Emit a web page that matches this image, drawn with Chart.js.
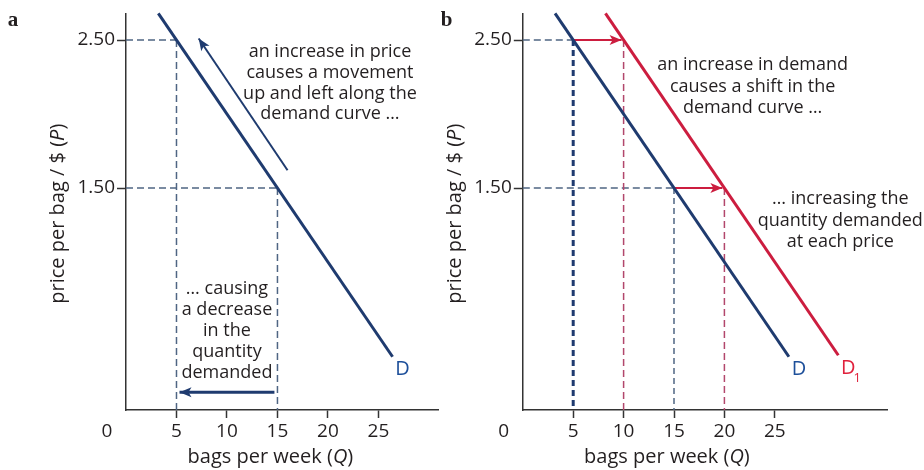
<!DOCTYPE html>
<html>
<head>
<meta charset="utf-8">
<script src="https://cdn.jsdelivr.net/npm/chart.js@4.4.1/dist/chart.umd.min.js"></script>
<style>
  html, body { margin: 0; padding: 0; background: #fff; }
  #wrap { position: relative; width: 924px; height: 470px; }
  .panel { position: absolute; top: 0; height: 470px; }
  #panelA { left: 0; width: 440px; }
  #panelB { left: 440px; width: 484px; }
</style>
</head>
<body>
<div id="wrap">
  <div class="panel" id="panelA"><canvas id="chartA"></canvas></div>
  <div class="panel" id="panelB"><canvas id="chartB"></canvas></div>
</div>
<script>
// Tick labels
const qTicks = [5, 10, 15, 20, 25];
const priceTicks = [1.5, 2.5];

// Demand curves (ends)
const demandQ = [3.2, 26.4];
const demandP = [2.68, 0.36];
const demand1Q = [8.2, 31.3];
const demand1P = [2.68, 0.37];

// Panel a: the two price / quantity points on D
const movePrices = [2.5, 1.5];
const moveQtys = [5, 15];
const alongArrowQ = [16.0, 7.2];
const alongArrowP = [1.62, 2.51];
const qtyArrowQ = [14.7, 5.3];
const qtyArrowP = [0.12, 0.12];

// Panel b: quantity at each price before and after the shift
const shiftPrices = [2.5, 1.5];
const shiftFromQ = [5, 15];
const shiftToQ = [10, 20];
const shiftArrowEndQ = [9.8, 19.8];

// Notes
const noteMove = ['an increase in price', 'causes a movement', 'up and left along the', 'demand curve \u2026'];
const noteQty = ['\u2026 causing', 'a decrease', 'in the', 'quantity', 'demanded'];
const noteShift = ['an increase in demand', 'causes a shift in the', 'demand curve \u2026'];
const noteEach = ['\u2026 increasing the', 'quantity demanded', 'at each price'];

const FONT = "'Open Sans', sans-serif";
const INK = '#231f20';
const NAVY = '#1f3b6f';
const BLUE_TXT = '#1d4f9a';
const RED = '#cc1d3f';
const RED_TXT = '#e0213c';
const DASH_BLUE = '#4f6583';
const DASH_RED = '#b2476c';

function pts(xs, ys) {
    return xs.map((x, i) => ({ x: x, y: ys[i] }));
}

function line(data, color, width, dash, arrow) {
    return {
        data: data,
        showLine: true,
        borderColor: color,
        backgroundColor: color,
        borderWidth: width,
        borderDash: dash || [],
        borderCapStyle: 'butt',
        pointRadius: 0,
        pointHoverRadius: 0,
        fill: false,
        tension: 0,
        clip: false,
        arrow: !!arrow
    };
}

// draws text made of parts with different fonts, centred at cx, cy
function drawRich(ctx, parts, cx, cy) {
    let total = 0;
    parts.forEach(p => { ctx.font = p.font; total += ctx.measureText(p.t).width; });
    let x = cx - total / 2;
    ctx.textAlign = 'left';
    ctx.textBaseline = 'middle';
    parts.forEach(p => {
        ctx.font = p.font;
        ctx.fillText(p.t, x, cy + (p.dy || 0));
        x += ctx.measureText(p.t).width;
    });
}

function drawLines(ctx, lines, cx, cy, lh) {
    ctx.font = '18px ' + FONT;
    ctx.fillStyle = INK;
    ctx.textAlign = 'center';
    ctx.textBaseline = 'middle';
    lines.forEach((t, i) => ctx.fillText(t, cx, cy + i * lh));
}

function drawArrowHeads(chart) {
    const ctx = chart.ctx;
    chart.data.datasets.forEach((ds, i) => {
        if (!ds.arrow) return;
        const p = chart.getDatasetMeta(i).data;
        const tip = p[p.length - 1], prev = p[p.length - 2];
        const a = Math.atan2(tip.y - prev.y, tip.x - prev.x);
        const len = 12, half = 5;
        ctx.save();
        ctx.translate(tip.x, tip.y);
        ctx.rotate(a);
        ctx.fillStyle = ds.borderColor;
        ctx.beginPath();
        ctx.moveTo(0, 0);
        ctx.lineTo(-len, -half);
        ctx.lineTo(-len + 3, 0);
        ctx.lineTo(-len, half);
        ctx.closePath();
        ctx.fill();
        ctx.restore();
    });
}

function axisTitles(chart, letter, letterX) {
    const ctx = chart.ctx;
    const xs = chart.scales.x, ys = chart.scales.y;
    ctx.save();
    ctx.fillStyle = INK;
    // panel letter
    ctx.font = "bold 21px 'Liberation Serif', serif";
    ctx.textAlign = 'center';
    ctx.textBaseline = 'middle';
    ctx.fillText(letter, letterX, 21);
    // origin label
    ctx.font = '19px ' + FONT;
    ctx.fillText('0', xs.getPixelForValue(0) - 19, 432);
    // x title
    drawRich(ctx, [
        { t: 'bags per week (', font: '20px ' + FONT },
        { t: 'Q', font: 'italic 20px ' + FONT },
        { t: ')', font: '20px ' + FONT }
    ], xs.getPixelForValue(14.3), 457);
    // y title
    ctx.translate(xs.getPixelForValue(0) - 68, (ys.top + ys.bottom) / 2 + 2);
    ctx.rotate(-Math.PI / 2);
    drawRich(ctx, [
        { t: 'price per bag / $ (', font: '20px ' + FONT },
        { t: 'P', font: 'italic 20px ' + FONT },
        { t: ')', font: '20px ' + FONT }
    ], 0, 0);
    ctx.restore();
}

function curveLabel(chart, qs, ps, text, sub, color) {
    const ctx = chart.ctx;
    const x = chart.scales.x.getPixelForValue(qs[1]) + 10;
    const y = chart.scales.y.getPixelForValue(ps[1]) + 13;
    ctx.save();
    ctx.fillStyle = color;
    ctx.font = '20px ' + FONT;
    ctx.textAlign = 'center';
    ctx.textBaseline = 'middle';
    ctx.fillText(text, x, y);
    if (sub) {
        ctx.font = '13px ' + FONT;
        ctx.fillText(sub, x + 9, y + 10);
    }
    ctx.restore();
}

function makeChart(id, datasets, xMax, yAxisWidth, padRight, plugin) {
    return new Chart(document.getElementById(id), {
        type: 'scatter',
        data: { datasets: datasets },
        options: {
            responsive: true,
            maintainAspectRatio: false,
            animation: false,
            events: [],
            layout: { padding: { top: 12, right: padRight, left: 0, bottom: 0 } },
            plugins: { legend: { display: false }, tooltip: { enabled: false } },
            scales: {
                x: {
                    type: 'linear',
                    min: 0,
                    max: xMax,
                    afterBuildTicks: s => { s.ticks = qTicks.map(v => ({ value: v })); },
                    afterFit: s => { s.height = 60; },
                    ticks: {
                        autoSkip: false,
                        maxRotation: 0,
                        padding: 2,
                        color: INK,
                        font: { family: FONT, size: 19 }
                    },
                    grid: { drawOnChartArea: false, drawTicks: true, tickLength: 8, tickColor: '#333', tickWidth: 1.5 },
                    border: { color: '#333', width: 1.5 }
                },
                y: {
                    type: 'linear',
                    min: 0,
                    max: 2.68,
                    afterBuildTicks: s => { s.ticks = priceTicks.map(v => ({ value: v })); },
                    afterFit: s => { s.width = yAxisWidth; },
                    ticks: {
                        padding: 2,
                        color: INK,
                        font: { family: FONT, size: 19 },
                        callback: v => v.toFixed(2)
                    },
                    grid: { drawOnChartArea: false, drawTicks: true, tickLength: 9, tickColor: '#333', tickWidth: 1.5 },
                    border: { color: '#333', width: 1.5 }
                }
            }
        },
        plugins: [plugin]
    });
}

// Panel a: movement along the curve
const dsA = [
    line(pts(demandQ, demandP), NAVY, 3),
    line(pts(alongArrowQ, alongArrowP), NAVY, 2, null, true),
    line(pts(qtyArrowQ, qtyArrowP), NAVY, 3, null, true)
];
moveQtys.forEach((q, i) => {
    dsA.push(line(pts([0, q], [movePrices[i], movePrices[i]]), DASH_BLUE, 1.5, [7, 4]));
    dsA.push(line(pts([q, q], [movePrices[i], 0]), DASH_BLUE, 1.5, [7, 4]));
});

makeChart('chartA', dsA, 30.9, 126, 2, {
    id: 'notesA',
    afterDatasetsDraw(chart) {
        drawArrowHeads(chart);
        const xs = chart.scales.x, ys = chart.scales.y;
        drawLines(chart.ctx, noteMove, xs.getPixelForValue(20.2), ys.getPixelForValue(2.42), 20.8);
        drawLines(chart.ctx, noteQty, xs.getPixelForValue(10), ys.getPixelForValue(0.82), 21);
        curveLabel(chart, demandQ, demandP, 'D', null, BLUE_TXT);
        axisTitles(chart, 'a', 13);
    }
});

// Panel b: shift of the curve
const dsB = [
    line(pts(demandQ, demandP), NAVY, 3),
    line(pts(demand1Q, demand1P), RED, 3)
];
shiftPrices.forEach((p, i) => {
    dsB.push(line(pts([shiftFromQ[i], shiftArrowEndQ[i]], [p, p]), RED, 2, null, true));
    dsB.push(line(pts([0, shiftFromQ[i]], [p, p]), DASH_BLUE, 1.5, [7, 4]));
    dsB.push(line(pts([shiftFromQ[i], shiftFromQ[i]], [p, 0]), i === 0 ? '#1f3b6f' : DASH_BLUE, i === 0 ? 3 : 1.5, [6, 4]));
    dsB.push(line(pts([shiftToQ[i], shiftToQ[i]], [p, 0]), DASH_RED, 1.5, [7, 4]));
});

makeChart('chartB', dsB, 36.2, 82.8, 36.3, {
    id: 'notesB',
    afterDatasetsDraw(chart) {
        drawArrowHeads(chart);
        const xs = chart.scales.x, ys = chart.scales.y;
        drawLines(chart.ctx, noteShift, xs.getPixelForValue(22.8), ys.getPixelForValue(2.33), 21.3);
        drawLines(chart.ctx, noteEach, xs.getPixelForValue(31.5), ys.getPixelForValue(1.424), 21.2);
        curveLabel(chart, demandQ, demandP, 'D', null, BLUE_TXT);
        curveLabel(chart, demand1Q, demand1P, 'D', '1', RED_TXT);
        axisTitles(chart, 'b', 6.7);
    }
});
</script>
</body>
</html>
